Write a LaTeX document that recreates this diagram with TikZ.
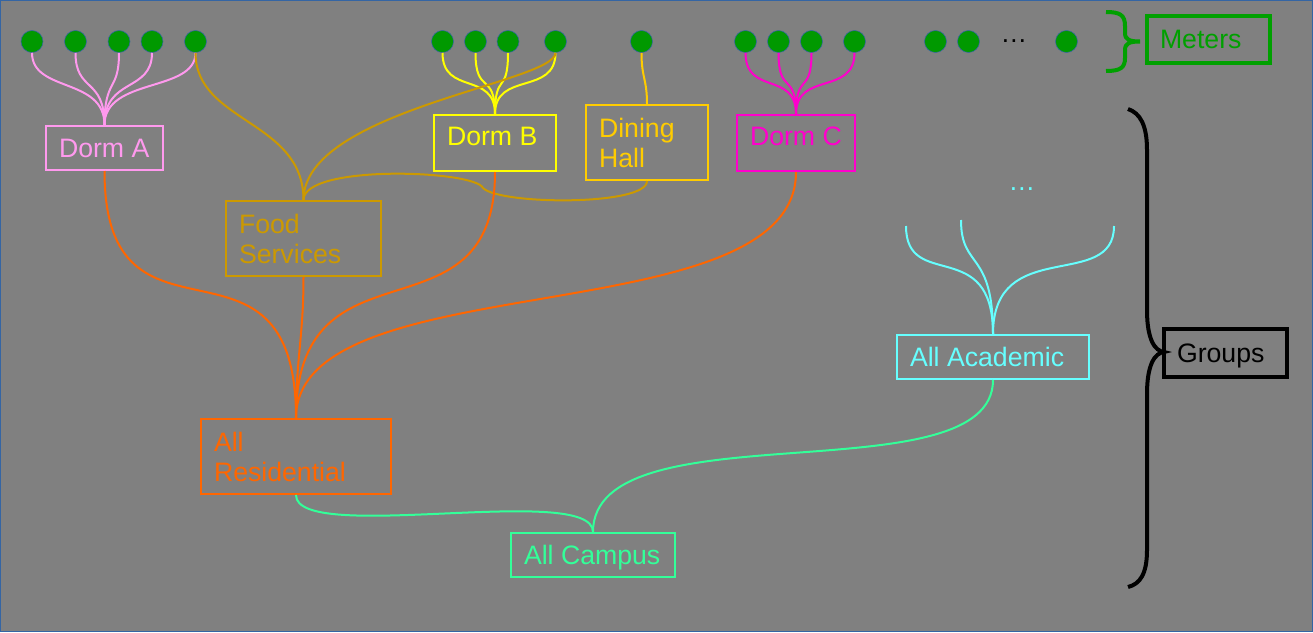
\documentclass[tikz,border=0pt]{standalone}
\usepackage{fontspec}
\setmainfont{Liberation Sans}
\definecolor{bg}{HTML}{808080}
\definecolor{edgec}{HTML}{3465A4}
\definecolor{pinkc}{HTML}{FF99EE}
\definecolor{yelc}{HTML}{FFFF00}
\definecolor{goldc}{HTML}{FFCC00}
\definecolor{dgold}{HTML}{CC9900}
\definecolor{magc}{HTML}{FF00CC}
\definecolor{orac}{HTML}{FF6600}
\definecolor{grnc}{HTML}{33FF99}
\definecolor{cyac}{HTML}{66FFFF}
\definecolor{meterc}{HTML}{009900}
\definecolor{meterb}{HTML}{00A000}
\begin{document}
\begin{tikzpicture}[x=0.75pt,y=-0.75pt,
  gbox/.style={draw=#1, text=#1, line width=1.5pt, inner xsep=9.75pt, inner ysep=0pt,
    align=flush left, font=\fontsize{20}{22.5}\selectfont},
  onel/.style={text depth=0pt},
  meter/.style={circle, fill=meterc, draw=edgec, line width=0.4pt, minimum size=16.5pt, inner sep=0pt},
  link/.style={draw=#1, line width=1.5pt},
  curlyb/.style={draw=#1, line width=3pt},
  dotsty/.style={text=#1, font=\fontsize{20}{22.5}\selectfont, inner sep=0pt}
]
\fill[bg] (0,0) rectangle (1313,632);
\draw[edgec, line width=0.75pt] (0.5,0.5) rectangle (1312.5,631.5);
\useasboundingbox (0,0) rectangle (1313,632);

% meters
\foreach \n/\x in {1/32,2/75.5,3/119,4/152,5/195.5,6/442.5,7/475.5,8/508,9/555.5,10/641.5,11/745.5,12/778.5,13/811.5,14/854.5,15/935.5,16/968.5,17/1066.5}
  \node[meter] (m\n) at (\x,41.5) {};
\node[dotsty=black] (dk) at (1014,41.5) {…};
\node[dotsty=cyac] (dc) at (1022,189) {…};

% group boxes
\node[gbox=pinkc, onel, text width=68.25pt, minimum height=33pt] (dA) at (104.5,148) {Dorm~A};
\node[gbox=yelc, text width=72pt, minimum height=42pt, text depth=10.5pt] (dB) at (495,143) {Dorm~B};
\node[gbox=goldc, text width=72pt, minimum height=56.25pt] (dH) at (647,142.5) {Dining\\Hall};
\node[gbox=magc, text width=69pt, minimum height=42pt, text depth=10.5pt] (dC) at (796,143) {Dorm~C};
\node[gbox=dgold, text width=96.75pt, minimum height=56.25pt] (fs) at (303.5,238.5) {Food\\Services};
\node[gbox=orac, text width=123pt, minimum height=56.25pt] (ar) at (296,456.5) {All\\Residential};
\node[gbox=grnc, onel, text width=103.5pt, minimum height=33pt] (ac) at (593,555) {All~Campus};
\node[gbox=cyac, onel, text width=124.5pt, minimum height=33pt] (aa) at (993,357) {All~Academic};
\node[gbox=black, onel, line width=3pt, text width=72.75pt, minimum height=36pt] (gr) at (1225.5,353) {Groups};
\node[gbox=meterb, onel, line width=3pt, text width=72.75pt, minimum height=35.25pt] (mt) at (1208.5,39.5) {Meters};

% meter -> dorm links
\foreach \i in {1,...,5}
  \draw[link=pinkc] (m\i.south) .. controls +(0,40) and +(0,-48) .. (dA.north);
\foreach \i in {6,...,9}
  \draw[link=yelc] (m\i.south) .. controls +(0,43) and +(0,-43) .. (dB.north);
\foreach \i in {11,...,14}
  \draw[link=magc] (m\i.south) .. controls +(0,43) and +(0,-43) .. (dC.north);
\draw[link=goldc] (m10.south) .. controls +(0,25) and +(0,-25) .. (dH.north);

% food services
\coordinate (dhk) at (483,188);
\draw[link=dgold] (m5.south) .. controls +(0,70) and +(0,-80) .. (fs.north);
\draw[link=dgold] (m9.south) .. controls +(0,30) and +(0,-90) .. (fs.north);
\draw[link=dgold] (dH.south) .. controls +(0,25) and (500,205) .. (dhk)
  .. controls (475,170) and +(0,-36) .. (fs.north);

% residential
\draw[link=orac] (dA.south) .. controls +(0,200) and +(0,-210) .. (ar.north);
\draw[link=orac] (fs.south) .. controls +(0,60) and +(0,-60) .. (ar.north);
\draw[link=orac] (dB.south) .. controls +(0,177) and +(0,-188) .. (ar.north);
\draw[link=orac] (dC.south) .. controls +(0,164) and +(0,-156) .. (ar.north);

% academic
\coordinate (c1) at (906,226);
\coordinate (c2) at (961,220);
\coordinate (c3) at (1114,226);
\draw[link=cyac] (c1) .. controls +(0,66) and +(0,-99) .. (aa.north);
\draw[link=cyac] (c2) .. controls +(0,50) and +(0,-85) .. (aa.north);
\draw[link=cyac] (c3) .. controls +(0,66) and +(0,-99) .. (aa.north);

% campus
\draw[link=grnc] (ar.south) .. controls +(0,50) and +(0,-50) .. (ac.north);
\draw[link=grnc] (aa.south) .. controls +(0,118) and +(0,-126) .. (ac.north);

% braces
\draw[curlyb=meterb] (1106,12) .. controls (1120,12) and (1125,15) .. (1125,26) -- (1125,33)
  .. controls (1125,40) and (1130,41.5) .. (1140,41.5)
  .. controls (1130,41.5) and (1125,43) .. (1125,50) -- (1125,58)
  .. controls (1125,68) and (1120,71) .. (1106,71);
\draw[curlyb=black] (1128,109) .. controls (1140,113) and (1147,125) .. (1147,150) -- (1147,310)
  .. controls (1147,340) and (1155,351) .. (1164,352)
  .. controls (1155,353) and (1147,364) .. (1147,394) -- (1147,550)
  .. controls (1147,574) and (1140,584) .. (1128,587);
\end{tikzpicture}
\end{document}
